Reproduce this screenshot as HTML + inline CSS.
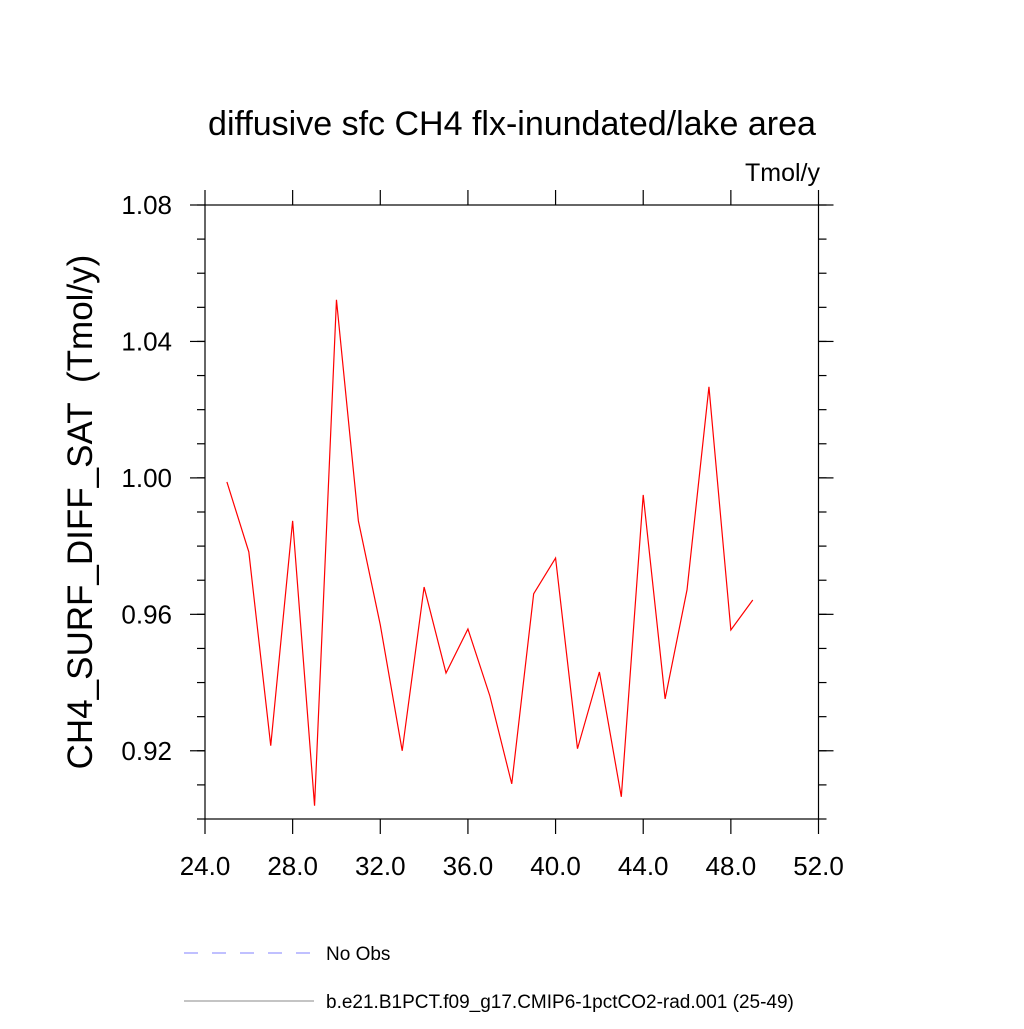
<!DOCTYPE html>
<html><head><meta charset="utf-8"><style>
body{margin:0;background:#fff}
svg text{font-family:"Liberation Sans",sans-serif;fill:#000}
</style></head><body>
<svg width="1024" height="1024" viewBox="0 0 1024 1024">
<text x="512" y="135" font-size="34" text-anchor="middle">diffusive sfc CH4 flx-inundated/lake area</text>
<text x="820" y="181" font-size="25" text-anchor="end">Tmol/y</text>
<text transform="translate(92,512) rotate(-90)" font-size="35" text-anchor="middle">CH4_SURF_DIFF_SAT&#160;&#160;(Tmol/y)</text>
<g id="axes"></g>
<polyline id="line" fill="none" stroke="#ff0000" stroke-width="1.2"></polyline>
<line x1="184" y1="953" x2="314" y2="953" stroke="#8080ff" stroke-width="1" stroke-dasharray="14,14"/>
<text x="326" y="960" font-size="19">No Obs</text>
<line x1="184" y1="1001" x2="314" y2="1001" stroke="#888" stroke-width="1"/>
<text x="326" y="1008" font-size="19">b.e21.B1PCT.f09_g17.CMIP6-1pctCO2-rad.001 (25-49)</text>
</svg>
<script>
const years=[25,26,27,28,29,30,31,32,33,34,35,36,37,38,39,40,41,42,43,44,45,46,47,48,49];
const values=[0.9988,0.9783,0.9215,0.9874,0.9039,1.0522,0.9874,0.9569,0.920,0.968,0.9428,0.9557,0.9361,0.9103,0.966,0.9765,0.9206,0.9431,0.9065,0.995,0.9352,0.9672,1.0267,0.9554,0.9642];
const xTicks=["24.0","28.0","32.0","36.0","40.0","44.0","48.0","52.0"];
const yTicks=["0.92","0.96","1.00","1.04","1.08"];
const L=205,R=818.5,T=205,B=819,X0=24,X1=52,Y0=0.9,Y1=1.08;
const sx=v=>L+(v-X0)/(X1-X0)*(R-L);
const sy=v=>B-(v-Y0)/(Y1-Y0)*(B-T);
const NS="http://www.w3.org/2000/svg";
const g=document.getElementById('axes');
function ln(x1,y1,x2,y2,name){const e=document.createElementNS(NS,'line');
e.setAttribute('x1',x1);e.setAttribute('y1',y1);e.setAttribute('x2',x2);e.setAttribute('y2',y2);
e.setAttribute('stroke','#000');e.setAttribute('stroke-width','1.2');


g.appendChild(e);}
function tx(x,y,s,anc,name){const e=document.createElementNS(NS,'text');
e.setAttribute('x',x);e.setAttribute('y',y);e.setAttribute('font-size','26');e.setAttribute('text-anchor',anc);e.textContent=s;


g.appendChild(e);}
const fr=document.createElementNS(NS,'rect');
fr.setAttribute('x',L);fr.setAttribute('y',T);fr.setAttribute('width',R-L);fr.setAttribute('height',B-T);
fr.setAttribute('fill','none');fr.setAttribute('stroke','#000');fr.setAttribute('stroke-width','1.2');


g.appendChild(fr);
xTicks.forEach(t=>{const x=sx(parseFloat(t));ln(x,B,x,B+15,'x-tick');ln(x,T,x,T-15,'x-tick-top');tx(x,B+56,t,'middle','x-tick-label');});
for(let v=0.90;v<=1.0801;v+=0.01){const y=sy(v);ln(L-8,y,L,y,'y-minor-tick');ln(R,y,R+8,y,'y-minor-tick-right');}
yTicks.forEach(t=>{const y=sy(parseFloat(t));ln(L-15,y,L,y,'y-tick');ln(R,y,R+15,y,'y-tick-right');tx(172,y+9,t,'end','y-tick-label');});
document.getElementById('line').setAttribute('points',years.map((x,i)=>sx(x)+','+sy(values[i])).join(' '));
</script>
</body></html>
